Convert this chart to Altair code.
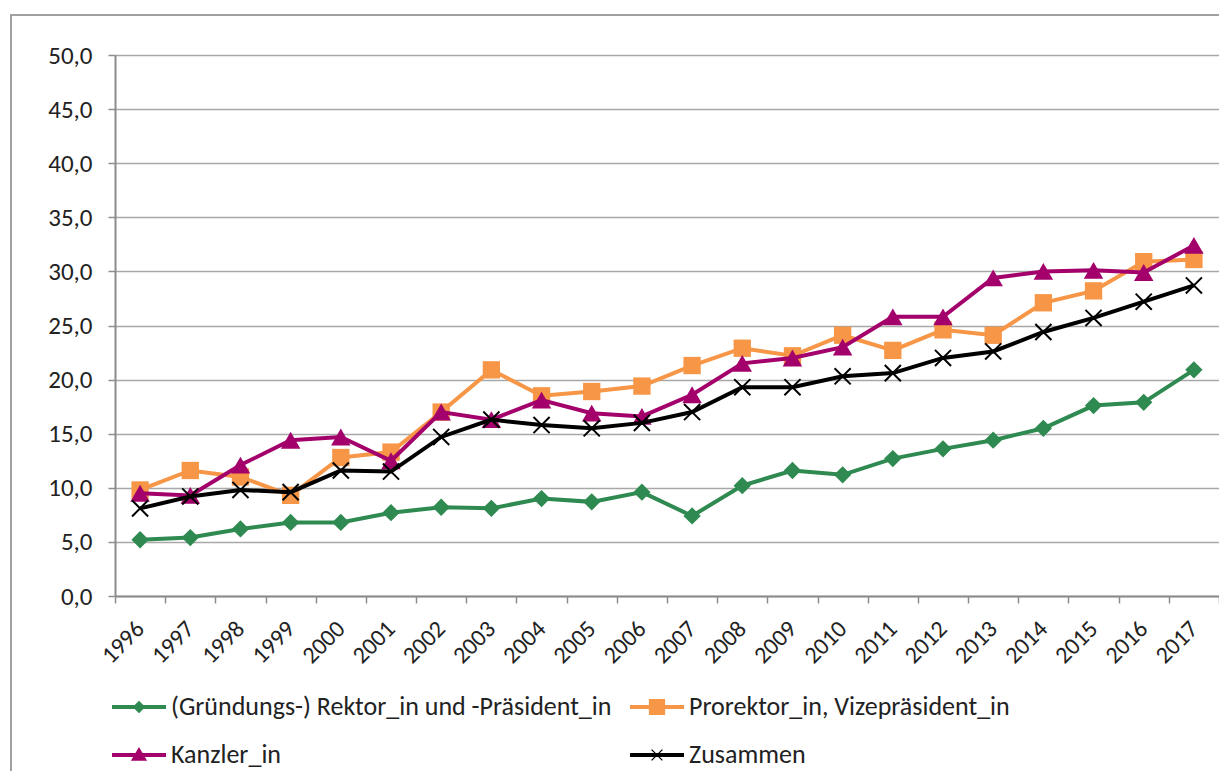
import altair as alt
import pandas as pd

years = list(range(1996, 2018))
series_names = [
    "(Gründungs-) Rektor_in und -Präsident_in",
    "Prorektor_in, Vizepräsident_in",
    "Kanzler_in",
    "Zusammen",
]
rektor = [5.2, 5.4, 6.2, 6.8, 6.8, 7.7, 8.2, 8.1, 9.0, 8.7, 9.6, 7.4, 10.2, 11.6, 11.2, 12.7, 13.6, 14.4, 15.5, 17.6, 17.9, 20.9]
prorektor = [9.8, 11.6, 11.0, 9.3, 12.8, 13.3, 17.0, 20.9, 18.5, 18.9, 19.4, 21.3, 22.9, 22.2, 24.1, 22.7, 24.6, 24.1, 27.1, 28.2, 30.9, 31.1]
kanzler = [9.5, 9.3, 12.1, 14.4, 14.7, 12.5, 17.0, 16.3, 18.1, 16.9, 16.6, 18.6, 21.5, 22.0, 23.0, 25.8, 25.8, 29.4, 30.0, 30.1, 29.9, 32.4]
zusammen = [8.1, 9.2, 9.8, 9.6, 11.6, 11.5, 14.7, 16.3, 15.8, 15.5, 16.0, 17.0, 19.3, 19.3, 20.3, 20.6, 22.0, 22.6, 24.4, 25.7, 27.2, 28.7]
y_ticks = [0, 5, 10, 15, 20, 25, 30, 35, 40, 45, 50]

colors = ["#2E8A50", "#F79646", "#A3006B", "#000000"]
FONT = "Carlito, Calibri, Lato, sans-serif"
FS = 25

rows = []
for name, vals in zip(series_names, [rektor, prorektor, kanzler, zusammen]):
    for yr, v in zip(years, vals):
        rows.append({"Jahr": str(yr), "Wert": v, "Reihe": name})
df = pd.DataFrame(rows)

color_scale = alt.Scale(domain=series_names, range=colors)

x_enc = alt.X(
    "Jahr:O",
    bandPosition=0.5,
    scale=alt.Scale(type="band", paddingInner=0, paddingOuter=0),
    axis=alt.Axis(
        title=None,
        tickBand="extent",
        labelAngle=-45,
        labelAlign="right",
        labelBaseline="middle",
        labelFontSize=24,
        labelFont=FONT,
        labelColor="#222222",
        labelPadding=22,
        labelOverlap=False,
        tickSize=7,
        tickColor="#8C8C8C",
        domainColor="#8C8C8C",
        domainWidth=2,
        tickWidth=1.5,
        grid=False,
    ),
)
y_enc = alt.Y(
    "Wert:Q",
    scale=alt.Scale(domain=[0, 50], nice=False),
    axis=alt.Axis(
        title=None,
        values=y_ticks,
        labelExpr="replace(format(datum.value, '.1f'), '.', ',')",
        labelFontSize=FS,
        labelFont=FONT,
        labelColor="#222222",
        labelPadding=16,
        tickSize=7,
        tickColor="#8C8C8C",
        domainColor="#8C8C8C",
        domainWidth=2,
        tickWidth=1.5,
        grid=True,
        gridColor="#A8A8A8",
        gridWidth=1.5,
    ),
)

point_shapes = ["diamond", "square", "triangle-up", "M-1,-1L1,1M-1,1L1,-1"]
point_sizes = [300, 300, 380, 260]

color_enc = alt.Color("Reihe:N", scale=color_scale, sort=series_names, title=None)

layers = []
for i, name in enumerate(series_names):
    base = alt.Chart(df).transform_filter(alt.datum.Reihe == name)
    line = base.mark_line(strokeWidth=4).encode(x=x_enc, y=y_enc, color=color_enc)
    if i == 3:
        pts = base.mark_point(shape=point_shapes[i], filled=False, size=point_sizes[i],
                              strokeWidth=2, opacity=1).encode(x=x_enc, y=y_enc, color=color_enc)
    else:
        pts = base.mark_point(shape=point_shapes[i], filled=True, size=point_sizes[i],
                              opacity=1).encode(x=x_enc, y=y_enc, color=color_enc)
    layers += [line, pts]

# legend symbols: line with marker (custom paths in unit coordinates)
LINE = "M-3,-0.22L3,-0.22L3,0.22L-3,0.22Z"
legend_paths = [
    LINE + "M0,-0.7L0.7,0L0,0.7L-0.7,0Z",
    LINE + "M-0.9,-0.9L0.9,-0.9L0.9,0.9L-0.9,0.9Z",
    LINE + "M0,-0.9L0.9,0.65L-0.9,0.65Z",
    LINE + "M-0.55,-0.65L0.65,0.55L0.55,0.65L-0.65,-0.55Z"
         + "M-0.65,0.55L0.55,-0.65L0.65,-0.55L-0.55,0.65Z",
]

legend_layer = alt.Chart(df).mark_point(filled=True, opacity=0, size=324).encode(
    x=x_enc, y=y_enc,
    color=color_enc,
    shape=alt.Shape("Reihe:N", sort=series_names,
                    scale=alt.Scale(domain=series_names, range=legend_paths), title=None),
)

frame = alt.Chart(df).mark_rect(fill=None, stroke="#A0A0A0", strokeWidth=2, clip=False).encode(
    x=alt.value(-104), x2=alt.value(1200), y=alt.value(-40), y2=alt.value(900),
)

chart = alt.layer(frame, *layers, legend_layer).properties(
    width=1104,
    height=541,
    autosize=alt.AutoSizeParams(type="none"),
    padding={"left": 107, "top": 47, "right": 0, "bottom": 175},
).configure_view(stroke=None).configure_legend(
    orient="none",
    legendX=11,
    legendY=639,
    columns=2,
    direction="horizontal",
    columnPadding=18,
    rowPadding=22,
    labelFont=FONT,
    labelFontSize=26,
    labelColor="#222222",
    labelOffset=19,
    labelLimit=0,
    symbolOpacity=1,
    symbolStrokeWidth=0,
    symbolSize=324,
    padding=0,
)

chart.save("out.html", embed_options={"renderer": "svg", "actions": False})
